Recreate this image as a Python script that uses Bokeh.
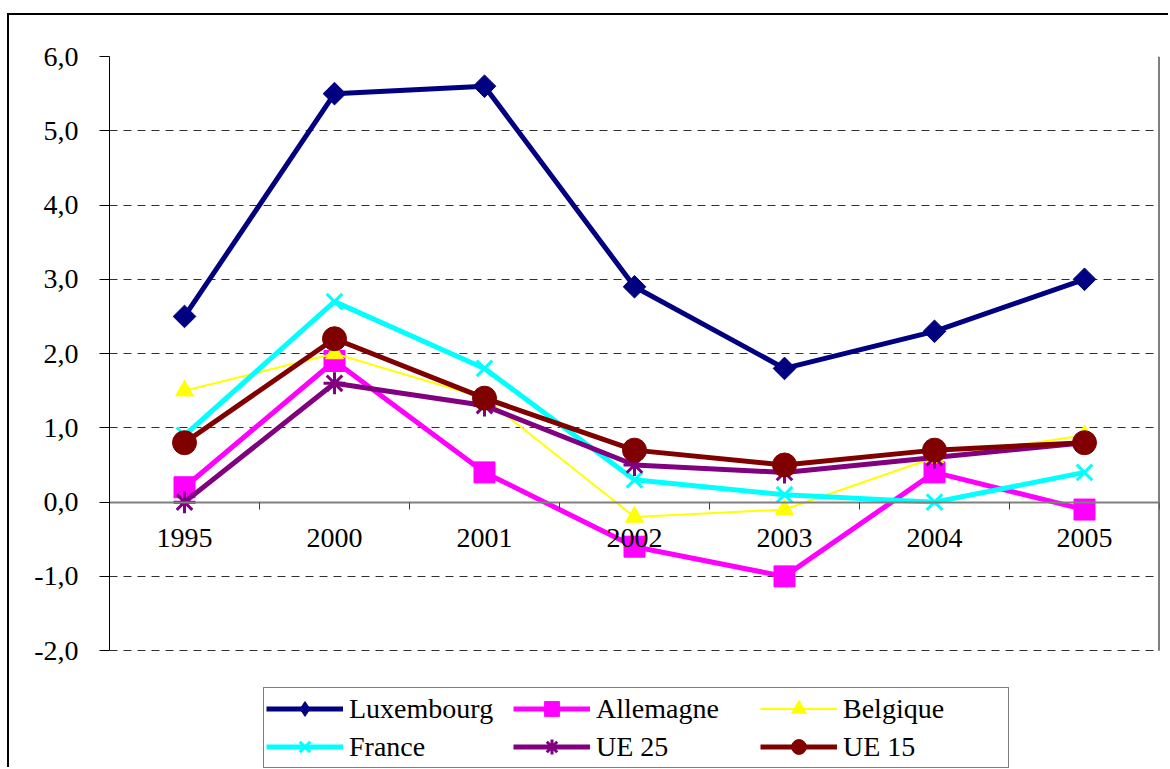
import math
from bokeh.plotting import figure
from bokeh.models import Range1d, FixedTicker, Legend, LegendItem
from bokeh.embed import file_html
from bokeh.resources import INLINE

# ---- data ----
years = ["1995", "2000", "2001", "2002", "2003", "2004", "2005"]
luxembourg = [2.5, 5.5, 5.6, 2.9, 1.8, 2.3, 3.0]
allemagne = [0.2, 1.9, 0.4, -0.6, -1.0, 0.4, -0.1]
belgique = [1.5, 2.0, 1.4, -0.2, -0.1, 0.6, 0.9]
france = [0.9, 2.7, 1.8, 0.3, 0.1, 0.0, 0.4]
ue25 = [0.0, 1.6, 1.3, 0.5, 0.4, 0.6, 0.8]
ue15 = [0.8, 2.2, 1.4, 0.7, 0.5, 0.7, 0.8]
series_names = ["Luxembourg", "Allemagne", "Belgique", "France", "UE 25", "UE 15"]
y_ticks = [-2, -1, 0, 1, 2, 3, 4, 5, 6]
y_tick_labels = ["-2,0", "-1,0", "0,0", "1,0", "2,0", "3,0", "4,0", "5,0", "6,0"]

FONT = "Liberation Serif"
FS = "28px"
xs = list(range(len(years)))

# frame spans from the top of the value axis down to the bottom of the canvas,
# so that the legend (drawn inside the frame) is not clipped
Y_EXTRA = 1.6  # extra room below the value axis for the legend

p = figure(width=1161, height=754, output_backend="svg", toolbar_location=None,
           x_range=Range1d(-0.5, len(years) - 0.5),
           y_range=Range1d(y_ticks[0] - Y_EXTRA, y_ticks[-1]),
           min_border_left=100, min_border_right=11, min_border_top=41, min_border_bottom=0,
           margin=(13, 0, 0, 7),
           styles={"border-top": "2px solid black", "border-left": "2px solid black"})
p.outline_line_color = None
p.background_fill_color = "white"
p.border_fill_color = "white"

# grid
p.xgrid.visible = False
p.ygrid.ticker = FixedTicker(ticks=[t for t in y_ticks if t != 0])
p.ygrid.grid_line_color = "#303030"
p.ygrid.grid_line_dash = "8 6"
p.ygrid.grid_line_width = 1

# y axis
p.yaxis.ticker = FixedTicker(ticks=y_ticks)
p.yaxis.bounds = (y_ticks[0], y_ticks[-1])
p.yaxis.major_label_overrides = {t: l for t, l in zip(y_ticks, y_tick_labels)}
p.yaxis.major_tick_out = 10
p.yaxis.major_tick_in = 0
p.yaxis.minor_tick_line_color = None
p.yaxis.axis_line_color = "black"
p.yaxis.major_tick_line_color = "black"
p.yaxis.major_label_standoff = 21
p.yaxis.major_label_text_font = FONT
p.yaxis.major_label_text_font_size = FS
p.yaxis.major_label_text_color = "black"

# x axis crossing at zero
p.xaxis.ticker = FixedTicker(ticks=xs, minor_ticks=[i - 0.5 for i in range(len(years) + 1)])
p.xaxis.major_label_overrides = {i: y for i, y in zip(xs, years)}
p.xaxis.fixed_location = 0
p.xaxis.major_tick_out = 0
p.xaxis.major_tick_in = 0
p.xaxis.minor_tick_out = 7
p.xaxis.minor_tick_in = 0
p.xaxis.minor_tick_line_color = "#404040"
p.xaxis.axis_line_color = "#808080"
p.xaxis.axis_line_width = 2
p.xaxis.major_label_standoff = 20
p.xaxis.major_label_text_font = FONT
p.xaxis.major_label_text_font_size = FS
p.xaxis.major_label_text_color = "black"

# right plot-area border
p.segment(x0=[len(years) - 0.5], y0=[y_ticks[0]], x1=[len(years) - 0.5], y1=[y_ticks[-1]],
          line_color="black", line_width=2)

styles = [
    dict(data=luxembourg, color="#000080", lw=5, marker="diamond", size=20, angle=0, mlw=1),
    dict(data=allemagne, color="#FF00FF", lw=5, marker="square", size=21, angle=0, mlw=1),
    dict(data=belgique, color="#FFFF00", lw=2, marker="triangle", size=18, angle=0, mlw=1),
    dict(data=france, color="#00FFFF", lw=5, marker="x", size=22, angle=0, mlw=3),
    dict(data=ue25, color="#800080", lw=5, marker="asterisk", size=22, angle=0, mlw=3),
    dict(data=ue15, color="#800000", lw=5, marker="circle", size=24, angle=0, mlw=1),
]

items = []
for name, st in zip(series_names, styles):
    lr = p.line(xs, st["data"], line_color=st["color"], line_width=st["lw"])
    sr = p.scatter(xs, st["data"], marker=st["marker"], size=st["size"], angle=st["angle"],
                   fill_color=st["color"], line_color=st["color"], line_width=st["mlw"])
    if st["marker"] == "diamond":
        # wide diamond in the plot: a square turned by 45 degrees over the legend's diamond
        p.scatter(xs, st["data"], marker="square", size=16, angle=math.pi / 4,
                  fill_color=st["color"], line_color=st["color"], line_width=1)
    items.append(LegendItem(label=name, renderers=[lr, sr]))

legend = Legend(items=items, ncols=3, orientation="horizontal", location=(154, 1),
                glyph_width=77, glyph_height=37, label_standoff=6, label_width=163,
                label_height=37, spacing=1, padding=2, margin=0,
                label_text_font=FONT, label_text_font_size=FS, label_text_color="black",
                border_line_color="black", border_line_width=1,
                background_fill_color="white", background_fill_alpha=1.0)
p.add_layout(legend, "center")

open("out.html", "w").write(file_html(p, INLINE))
